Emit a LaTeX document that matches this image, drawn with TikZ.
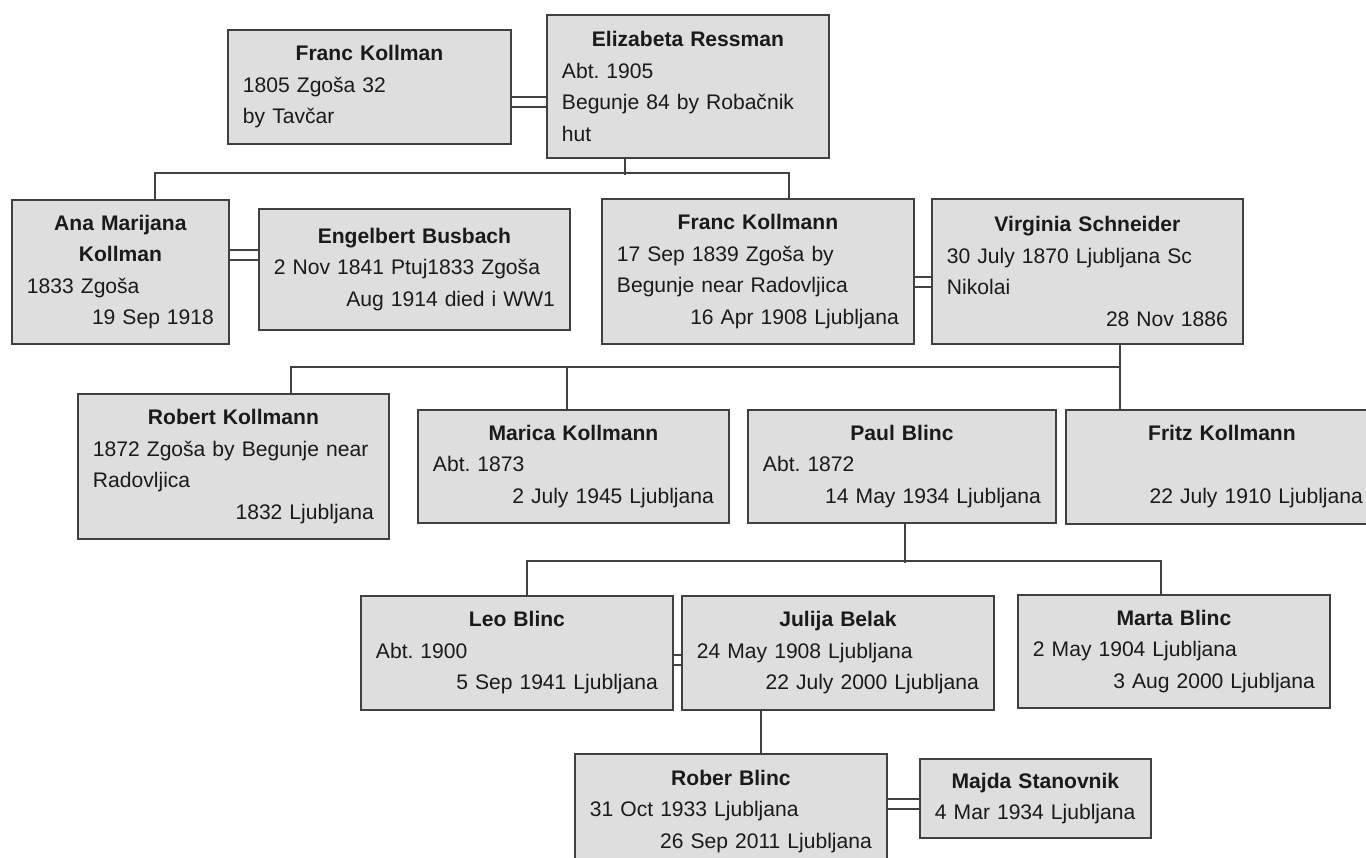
\documentclass[tikz,border=0pt]{standalone}
\usepackage{fontspec}
\setmainfont{Liberation Sans}
\usepackage{tikz}
\frenchspacing
\definecolor{boxgray}{HTML}{DEDEDE}
\definecolor{edgegray}{HTML}{404040}
\definecolor{inkgray}{HTML}{1A1A1A}
\newcommand\tname[1]{\hfill\textbf{#1}\hfill\null}
\tikzset{person/.style={draw=edgegray,fill=boxgray,line width=1.1pt,anchor=north west,align=left,inner xsep=0.3cm,text width=5.64cm,text=inkgray,font=\fontsize{12pt}{17.9pt}\selectfont},kin/.style={draw=edgegray,line width=1.1pt},wed/.style={draw=edgegray,line width=1.2pt,double=white,double distance=4.4pt}}
\begin{document}
\begin{tikzpicture}[x=0.02cm,y=-0.02cm]
\useasboundingbox (0,0) rectangle (1366,858);
\clip (0,0) rectangle (1366,858);
\node[person,text width=5.06cm,minimum height=2.28cm] (fk) at (227,29) {\tname{Franc Kollman}\\1805 Zgoša 32\\by Tavčar};
\node[person,text width=5.04cm,minimum height=2.86cm] (er) at (546,14) {\tname{Elizabeta Ressman}\\Abt. 1905\\Begunje 84 by Robačnik\\hut};
\node[person,text width=3.74cm,minimum height=2.88cm] (amk) at (11,199) {\tname{Ana Marijana}\\\tname{Kollman}\\1833 Zgoša\\\hfill 19 Sep 1918};
\node[person,text width=5.62cm,minimum height=2.42cm] (eb) at (258,208) {\tname{Engelbert Busbach}\\2 Nov 1841 Ptuj1833 Zgoša\\\hfill Aug 1914 died i WW1};
\node[person,minimum height=2.9cm] (fkn) at (601,198) {\tname{Franc Kollmann}\\17 Sep 1839 Zgoša by\\Begunje near Radovljica\\\hfill 16 Apr 1908 Ljubljana};
\node[person,text width=5.62cm,minimum height=2.9cm] (vs) at (931,198) {\tname{Virginia Schneider}\\30 July 1870 Ljubljana Sc\\Nikolai\\\hfill 28 Nov 1886};
\node[person,text width=5.62cm,minimum height=2.9cm] (rk) at (77,393) {\tname{Robert Kollmann}\\1872 Zgoša by Begunje near\\Radovljica\\\hfill 1832 Ljubljana};
\node[person,text width=5.62cm,minimum height=2.26cm] (mk) at (417,409) {\tname{Marica Kollmann}\\Abt. 1873\\\hfill 2 July 1945 Ljubljana};
\node[person,text width=5.56cm,minimum height=2.26cm] (pb) at (747,409) {\tname{Paul Blinc}\\Abt. 1872\\\hfill 14 May 1934 Ljubljana};
\node[person,minimum height=2.28cm] (fz) at (1065,409) {\tname{Fritz Kollmann}\\\mbox{}\\\hfill 22 July 1910 Ljubljana};
\node[person,minimum height=2.28cm] (lb) at (360,595) {\tname{Leo Blinc}\\Abt. 1900\\\hfill 5 Sep 1941 Ljubljana};
\node[person,minimum height=2.28cm] (jb) at (681,595) {\tname{Julija Belak}\\24 May 1908 Ljubljana\\\hfill 22 July 2000 Ljubljana};
\node[person,minimum height=2.26cm] (mb) at (1017,594) {\tname{Marta Blinc}\\2 May 1904 Ljubljana\\\hfill 3 Aug 2000 Ljubljana};
\node[person,minimum height=2.3cm] (rb) at (574,753) {\tname{Rober Blinc}\\31 Oct 1933 Ljubljana\\\hfill 26 Sep 2011 Ljubljana};
\node[person,text width=4.02cm,minimum height=1.58cm] (ms) at (919,758) {\tname{Majda Stanovnik}\\4 Mar 1934 Ljubljana};
\draw[wed] (fk.east |- 0,102) -- (er.west |- 0,102);
\draw[wed] (amk.east |- 0,255) -- (eb.west |- 0,255);
\draw[wed] (fkn.east |- 0,282) -- (vs.west |- 0,282);
\draw[wed] (lb.east |- 0,660) -- (jb.west |- 0,660);
\draw[wed] (rb.east |- 0,804) -- (ms.west |- 0,804);
\draw[kin] (er.south -| 625,0) -- ++(0,16);
\draw[kin] (amk.north -| 155,0) -- ++(0,-26) -| (fkn.north -| 789,0);
\draw[kin] (vs.south -| 1120,0) -- ++(0,24);
\draw[kin] (rk.north -| 291,0) -- ++(0,-26) -| (fz.north -| 1120,0);
\draw[kin] (mk.north -| 567,0) -- ++(0,-42);
\draw[kin] (pb.south -| 905,0) -- ++(0,39);
\draw[kin] (lb.north -| 527,0) -- ++(0,-34) -| (mb.north -| 1161,0);
\draw[kin] (jb.south -| 761,0) -- (rb.north -| 761,0);
\end{tikzpicture}
\end{document}
